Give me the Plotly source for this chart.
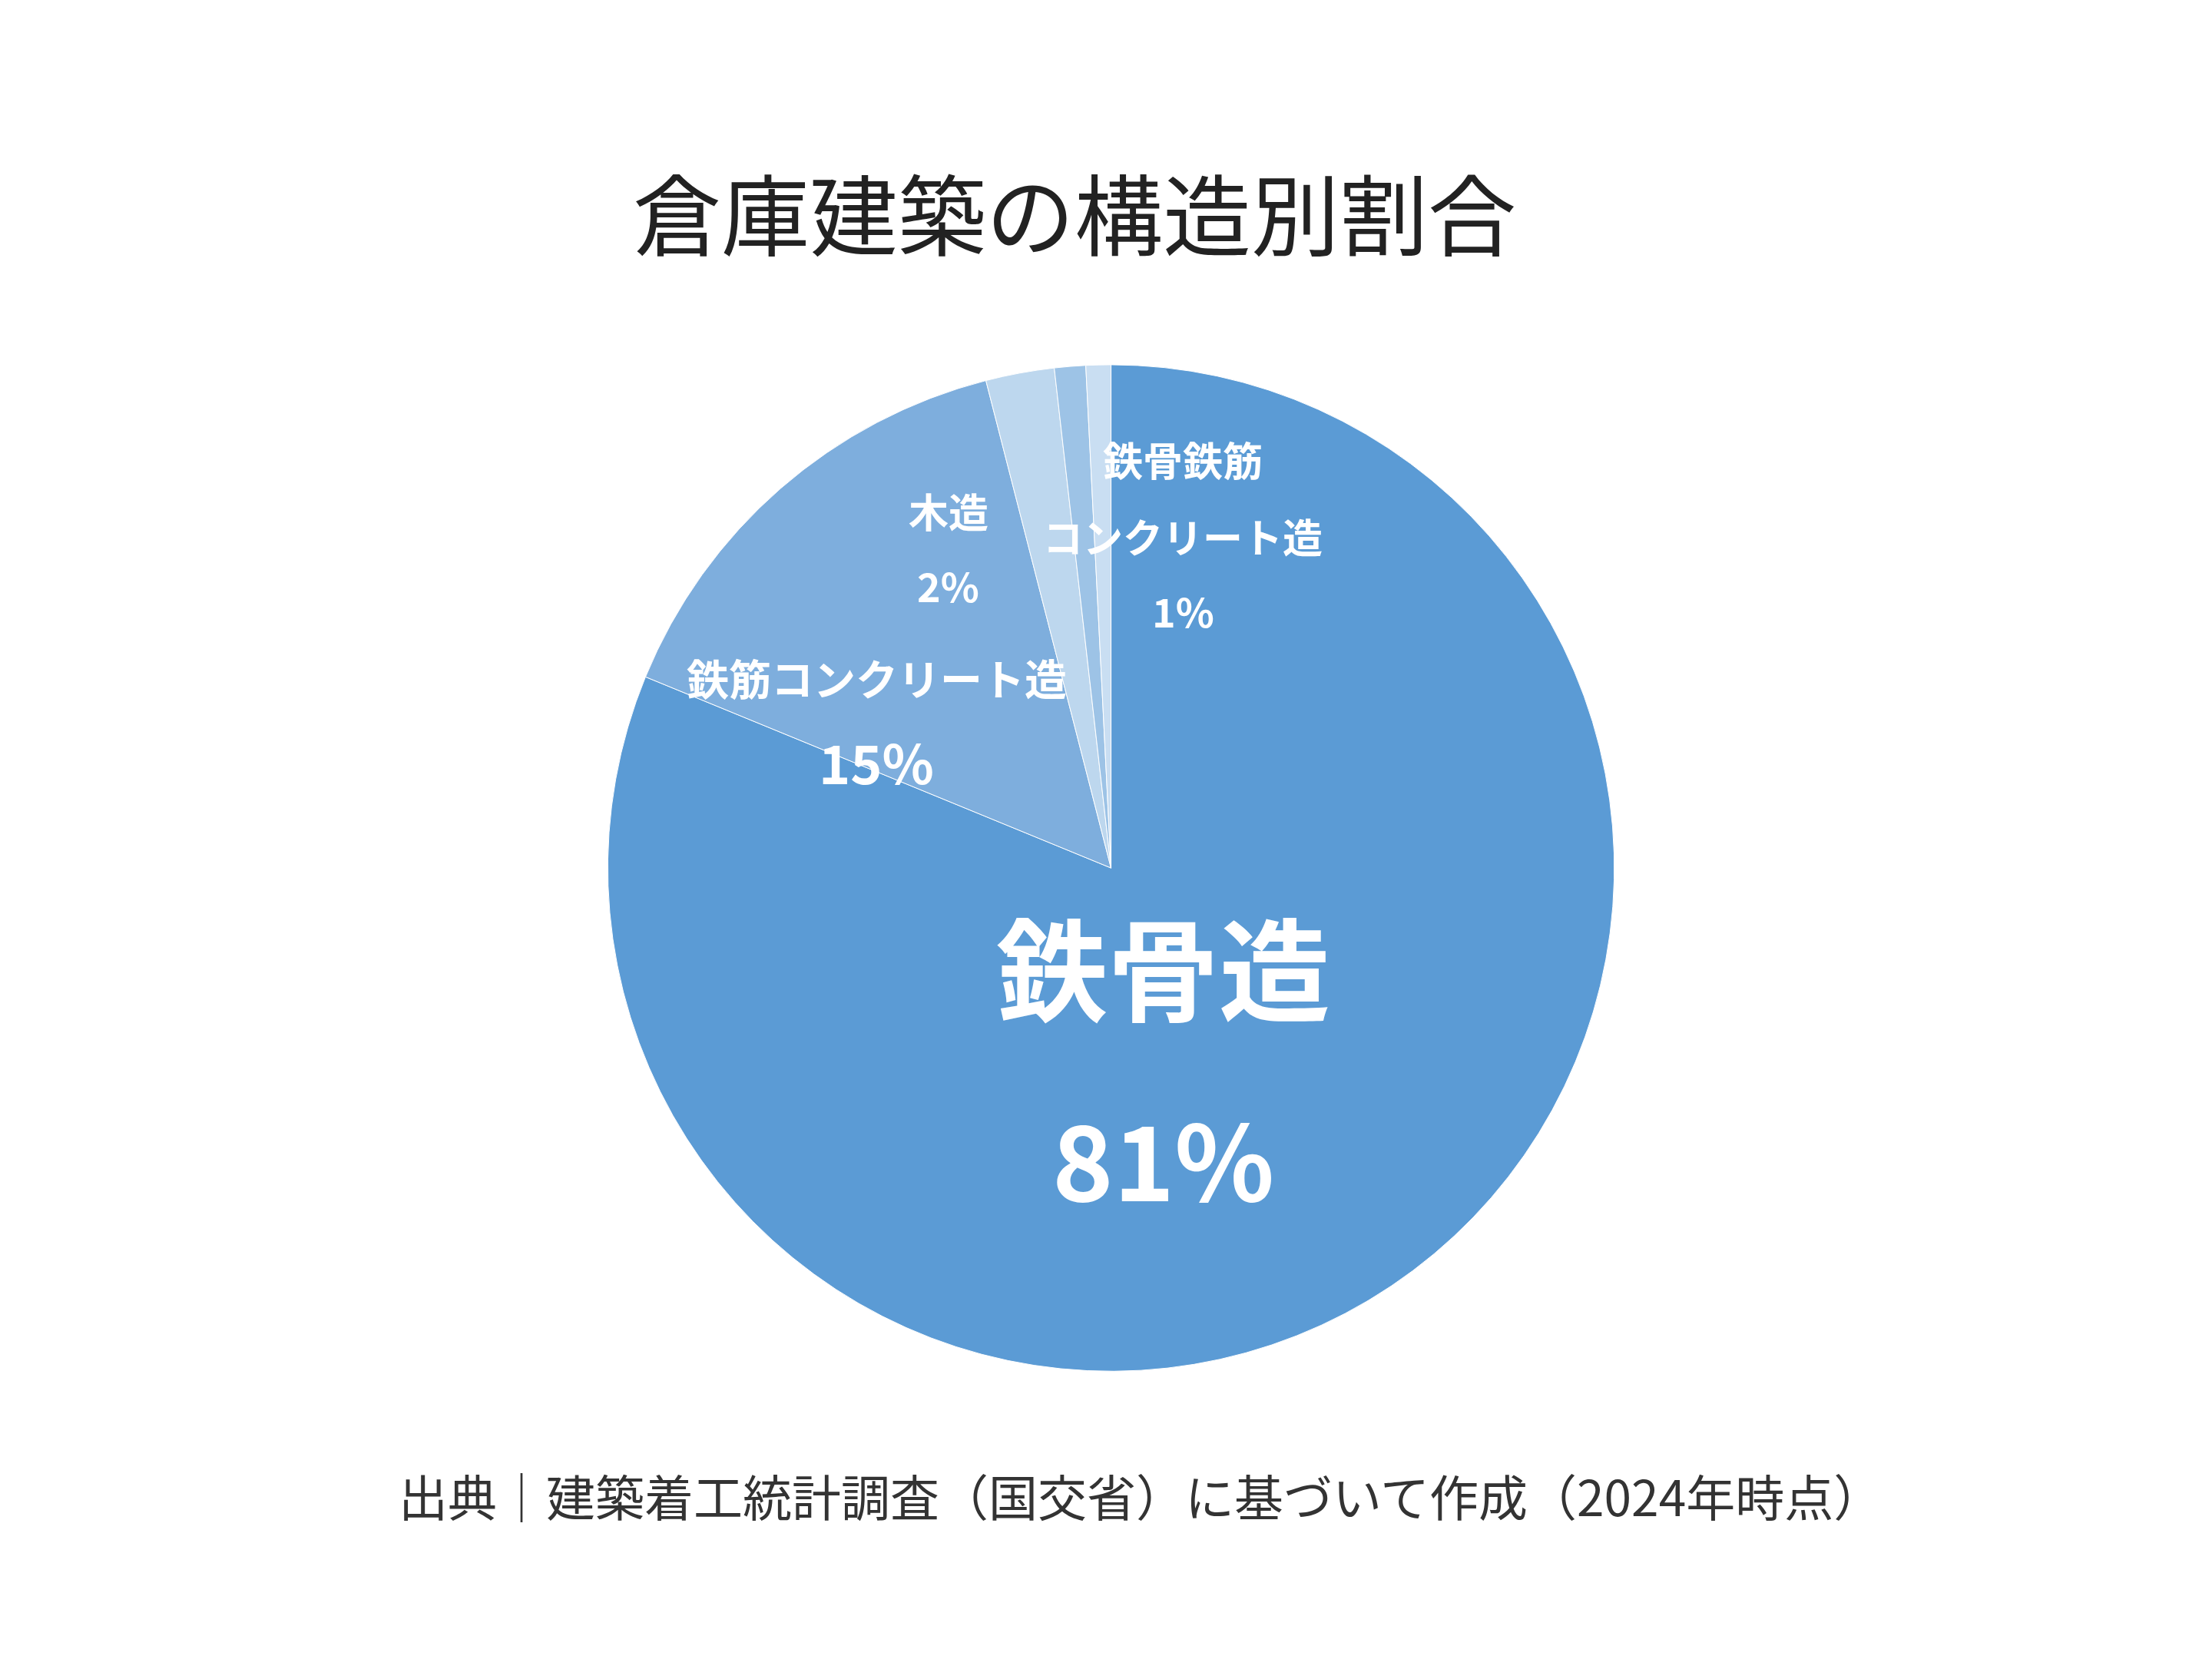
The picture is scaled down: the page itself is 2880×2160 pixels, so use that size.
import plotly.graph_objects as go

labels = ["鉄骨造", "鉄筋コンクリート造", "木造", "鉄骨鉄筋コンクリート造", "その他"]
values = [81.2, 14.8, 2.2, 1.0, 0.8]
colors = ["#5b9bd5", "#7eaedd", "#bdd7ee", "#9dc3e6", "#c9def2"]

title = "倉庫建築の構造別割合"
source = "出典｜建築着工統計調査（国交省）に基づいて作成（2024年時点）"
FONT = "Noto Sans CJK JP"

fig = go.Figure(go.Pie(
    labels=labels, values=values, sort=False, direction="clockwise", rotation=0,
    marker=dict(colors=colors, line=dict(color="white", width=1)),
    textinfo="none", hoverinfo="label+percent", showlegend=False,
    domain=dict(x=[0.272, 0.727], y=[0.177, 0.784]),
))

def note(text, x, y, size, bold=True, color="white"):
    fig.add_annotation(text=f"<b>{text}</b>" if bold else text, x=x, y=y,
                       xref="paper", yref="paper", showarrow=False,
                       xanchor="center", yanchor="middle",
                       font=dict(family=FONT, size=size, color=color))

note("鉄骨造", 0.523, 0.422, 145)
note("81%", 0.523, 0.307, 135)
note("鉄筋コンクリート造", 0.3935, 0.596, 55)
note("15%", 0.3935, 0.545, 70)
note("木造", 0.426, 0.696, 52)
note("2%", 0.426, 0.651, 52)
note("鉄骨鉄筋", 0.532, 0.727, 52)
note("コンクリート造", 0.532, 0.681, 52)
note("1%", 0.532, 0.636, 52)
note(title, 0.483, 0.877, 115, bold=False, color="#222222")
note(source, 0.513, 0.103, 64, bold=False, color="#333333")

fig.update_layout(width=2880, height=2160, margin=dict(l=0, r=0, t=0, b=0),
                  paper_bgcolor="white", plot_bgcolor="white")
fig.write_html("out.html")
